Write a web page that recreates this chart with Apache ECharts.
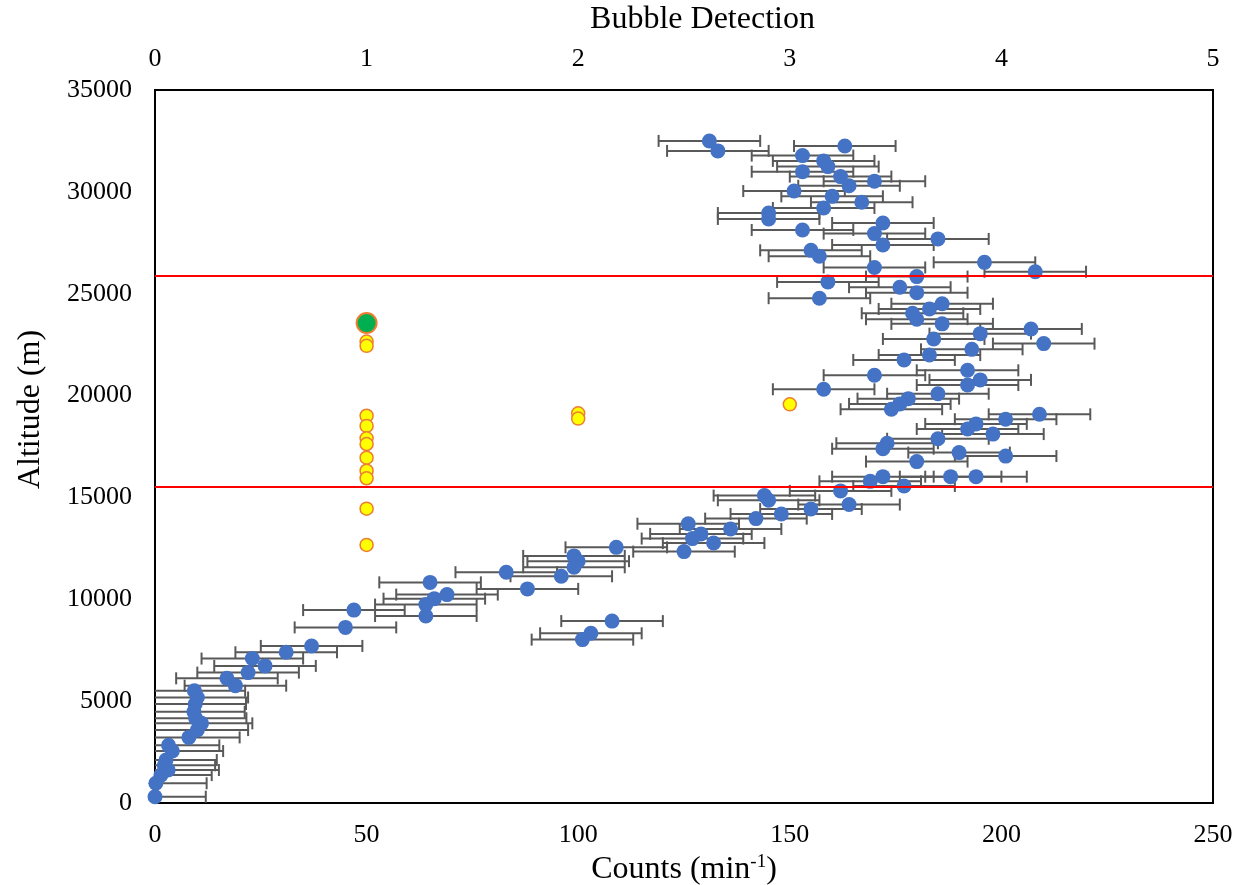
<!DOCTYPE html>
<html><head><meta charset="utf-8">
<script src="https://cdn.jsdelivr.net/npm/echarts@6/dist/echarts.min.js"></script>
<style>html,body{margin:0;padding:0;background:#fff}#c{width:1244px;height:885px}</style>
</head><body><div id="c"></div>
<script>
// Counts (min^-1) vs altitude (m), blue points with horizontal error bars
const blueCounts = [131,133,163,153,158,159,153,162,170,164,151,160,167,158,145,145,172,153,170,185,172,155,157,170,196,208,
  180,159,176,180,157,186,183,179,180,186,207,195,184,210,193,183,177,192,170,195,192,158,185,178,176,174,209,201,194,192,198,185,173,172,190,201,180,
  172,169,188,194,177,162,144,145,164,155,148,142,126,136,129,127,132,109,125,99,100,99,83,96,88,108,103,101,
  65,69,66,64,64,47,45,37,31,23,26,22,17,19,9.3,10,9.5,9.2,9.6,11,10,8,3.2,4.1,2.6,2.2,3.1,1.4,0.2,0];
const blueAlt = [32500,32010,32250,31780,31520,31240,30990,30750,30520,30300,30040,29780,29490,29210,28960,28670,28470,28130,27950,27690,27390,27130,26840,26290,26540,26080,
  25840,25580,25320,25050,24780,24510,24250,24040,23750,23520,23270,23040,22780,22550,22270,21990,21750,21240,21000,20770,20520,20310,20090,19850,19590,19330,19080,18840,18610,18360,18110,17880,17660,17390,17200,17030,16760,
  16020,15790,16020,16020,15560,15320,15090,14860,14650,14430,14190,13960,13710,13450,13210,12980,12760,12550,12340,12130,11870,11570,11330,11130,10510,8930,8330,8020,
  10830,10230,10030,9740,9180,9470,8620,7710,7400,7090,6730,6400,6120,5760,5510,5180,4860,4480,4160,3910,3580,3220,2830,2550,2110,1850,1620,1370,970,310];
const countError = 12;
// Bubble detection (top axis) vs altitude
const bubbleX = [1,1,1,1,1,1,1,1,1,1,1,2,2,3];
const bubbleAlt = [22650,22440,19010,18510,17900,17620,16950,16310,15940,14450,12670,19130,18870,19570];
const greenX = [1];
const greenAlt = [23560];
const redLineAlt = [25900, 15500];
const countTicks = [0, 250, 50];
const bubbleTicks = [0, 5, 1];
const altTicks = [0, 35000, 5000];

const blueData = blueCounts.map((c, i) => [c, blueAlt[i], countError]);
const bubbleData = bubbleX.map((b, i) => [b, bubbleAlt[i]]);
const greenData = greenX.map((b, i) => [b, greenAlt[i]]);

const FONT = 'Liberation Serif';
const TICK = 26, TITLE = 32;
const chart = echarts.init(document.getElementById('c'));
chart.setOption({
  animation: false,
  backgroundColor: '#fff',
  textStyle: { fontFamily: FONT },
  grid: { left: 155, right: 31, top: 90, bottom: 82, show: true, borderColor: '#000', borderWidth: 2, outerBoundsMode: 'none', containLabel: false },
  xAxis: [
    { type: 'value', position: 'bottom', min: countTicks[0], max: countTicks[1], interval: countTicks[2],
      name: '{a|Counts (min}{b|-1}{a|)}', nameLocation: 'middle', nameGap: 45,
      nameTextStyle: { rich: { a: { fontFamily: FONT, fontSize: TITLE, color: '#000' }, b: { fontFamily: FONT, fontSize: 19, color: '#000', verticalAlign: 'top', padding: [0, 0, 14, 0] } } },
      axisLine: { lineStyle: { color: '#000', width: 2 } }, axisTick: { show: false }, splitLine: { show: false },
      axisLabel: { fontFamily: FONT, fontSize: TICK, color: '#000', margin: 19 } },
    { type: 'value', position: 'top', min: bubbleTicks[0], max: bubbleTicks[1], interval: bubbleTicks[2],
      name: 'Bubble Detection', nameLocation: 'middle', nameGap: 54,
      nameTextStyle: { fontFamily: FONT, fontSize: TITLE, color: '#000', padding: [0, 0, 0, 37] },
      axisLine: { lineStyle: { color: '#000', width: 2 } }, axisTick: { show: false }, splitLine: { show: false },
      axisLabel: { fontFamily: FONT, fontSize: TICK, color: '#000', margin: 18 } }
  ],
  yAxis: [
    { type: 'value', min: altTicks[0], max: altTicks[1], interval: altTicks[2],
      name: 'Altitude (m)', nameLocation: 'middle', nameGap: 108,
      nameTextStyle: { fontFamily: FONT, fontSize: TITLE, color: '#000', padding: [0, 0, 0, 74] },
      axisLine: { show: true, lineStyle: { color: '#000', width: 2 } }, axisTick: { show: false }, splitLine: { show: false },
      axisLabel: { fontFamily: FONT, fontSize: TICK, color: '#000', margin: 23, formatter: v => String(v) } }
  ],
  series: [
    { type: 'custom', xAxisIndex: 0, yAxisIndex: 0, z: 2, data: blueData, encode: { x: 0, y: 1 },
      renderItem: function (params, api) {
        const x = api.value(0), y = api.value(1), e = api.value(2);
        const lo = Math.max(countTicks[0], x - e), hi = x + e;
        const p0 = api.coord([lo, y]), p1 = api.coord([hi, y]);
        const style = { stroke: '#595959', lineWidth: 2 };
        const ch = 6;
        const children = [{ type: 'line', shape: { x1: p0[0], y1: p0[1], x2: p1[0], y2: p1[1] }, style: style }];
        if (x - e >= countTicks[0]) children.push({ type: 'line', shape: { x1: p0[0], y1: p0[1] - ch, x2: p0[0], y2: p0[1] + ch }, style: style });
        children.push({ type: 'line', shape: { x1: p1[0], y1: p1[1] - ch, x2: p1[0], y2: p1[1] + ch }, style: style });
        return { type: 'group', children: children };
      } },
    { type: 'scatter', xAxisIndex: 0, yAxisIndex: 0, z: 3, symbol: 'circle', symbolSize: 15,
      data: blueData.map(d => [d[0], d[1]]), itemStyle: { color: '#4472C4', opacity: 1 },
      markLine: { silent: true, symbol: 'none', label: { show: false }, lineStyle: { color: '#FF0000', width: 2, type: 'solid' },
        data: redLineAlt.map(a => ({ yAxis: a })) } },
    { type: 'scatter', xAxisIndex: 1, yAxisIndex: 0, z: 4, symbol: 'circle', symbolSize: 13,
      data: bubbleData, itemStyle: { color: '#FFFF00', borderColor: '#ED7D31', borderWidth: 1.5, opacity: 1 } },
    { type: 'scatter', xAxisIndex: 1, yAxisIndex: 0, z: 5, symbol: 'circle', symbolSize: 20,
      data: greenData, itemStyle: { color: '#00B050', borderColor: '#ED7D31', borderWidth: 2, opacity: 1 } }
  ]
});
</script>
</body></html>
